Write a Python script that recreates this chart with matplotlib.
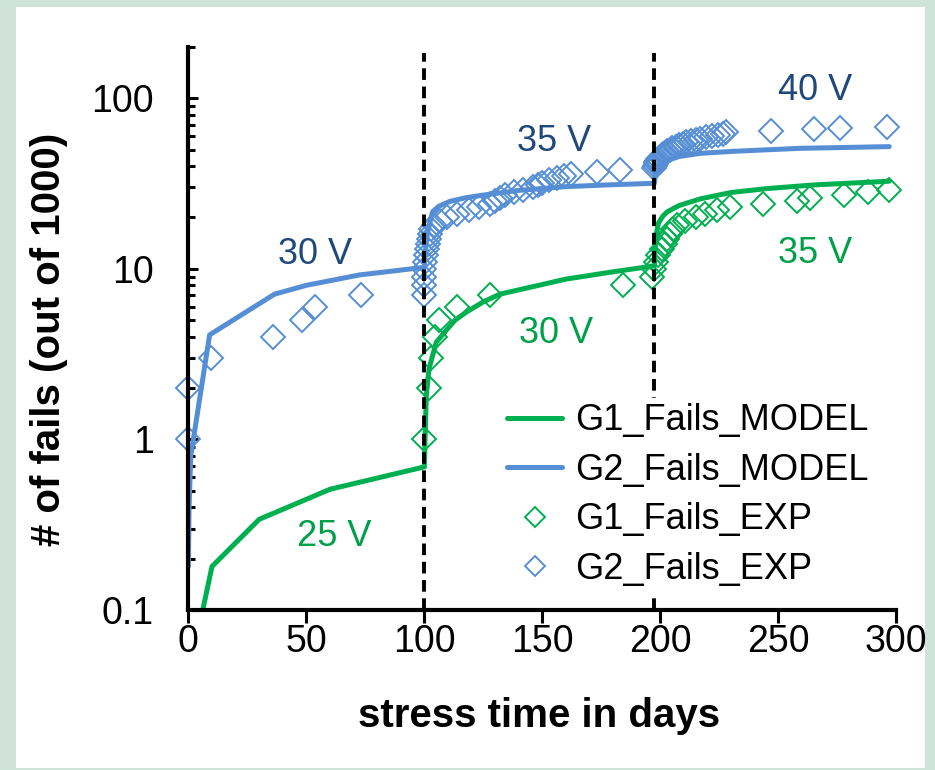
import matplotlib
matplotlib.use("Agg")
import matplotlib.pyplot as plt
from matplotlib.patches import Rectangle
from matplotlib.ticker import FixedLocator, LogLocator, NullFormatter, FuncFormatter

plt.rcParams["font.family"] = ["Liberation Sans", "DejaVu Sans"]

GREEN = "#00B050"
BLUE = "#558ED5"
GREEN_TXT = "#00A04A"
BLUE_TXT = "#1F497D"

# phase boundaries (stress voltage steps)
step_days = [100, 197.5]

# model curves
g1_model_days = [0, 10, 30, 60, 100, 100.3, 100.8, 102, 103.5, 105, 109.5, 113, 118, 125, 132,
                 145, 160, 180, 197.5, 197.8, 198.2, 199.2, 201, 203, 208, 217, 230, 245, 265, 297]
g1_model_fails = [0.04, 0.18, 0.34, 0.51, 0.69, 1.0, 1.8, 2.6, 3.1, 3.7, 4.4, 5.0, 5.6, 6.4, 7.1,
                  7.8, 8.7, 9.6, 10.4, 13.0, 15.7, 18.5, 20.3, 21.6, 23.5, 25.7, 28.0, 29.5, 31.0, 32.6]

g2_model_days = [0, 0.3, 1, 9, 36.5, 50, 72.5, 100, 100.5, 101.3, 102.3, 103.5, 106, 110.7, 117,
                 124.7, 140, 160, 180, 197.5, 197.8, 199, 202.5, 208, 217, 231, 259, 297]
g2_model_fails = [0.18, 0.4, 0.8, 4.1, 7.1, 8.0, 9.2, 10.2, 13.0, 16.0, 18.5, 21.6, 23.2, 24.8, 26.0,
                  27.0, 28.8, 30.3, 31.1, 31.7, 35.0, 40.0, 43.0, 45.5, 47.5, 48.8, 50.8, 52.0]

# experimental cumulative fails
g1_exp_days = [100, 101.8, 102.8, 104.5, 106, 114, 128, 184,
               196.5, 197.2, 198, 199, 200.5, 202, 203, 204, 205.5, 207, 210.5, 215, 219, 224,
               229.5, 243.5, 258, 263.5, 278, 288, 297]
g1_exp_fails = [1, 2, 3, 4, 5, 6, 7, 8,
                9, 10, 11, 12, 13, 14, 15, 16, 17, 18, 19, 20, 21, 22,
                23, 24, 25, 26, 27, 28, 29]

g2_exp_days = [0, 0, 9.5, 36, 48, 53.5, 73,
               100, 100, 100, 100, 100.3, 100.6, 101, 101.4, 101.8, 102.3, 103, 104, 106.5,
               109.5, 113.7, 119, 123, 128, 130, 132, 134, 138, 142, 146, 148, 150, 153, 156,
               159, 162, 173, 183,
               197.5, 197.7, 198, 198.3, 198.7, 199.2, 199.8, 200.5, 201.3, 202, 203, 204, 205,
               206.5, 208, 209.5, 211, 213, 215, 217, 219.5, 222, 224.5, 226.5, 228,
               247, 265, 276, 296]
g2_exp_fails = [1, 2, 3, 4, 5, 6, 7,
                7, 8, 9, 10, 11, 12, 13, 14, 15, 16, 17, 18, 19,
                20, 21, 22, 23, 24, 25, 26, 27, 28, 29, 30, 31, 32, 33, 34,
                35, 36, 37, 38,
                39, 40, 41, 42, 43, 44, 45, 46, 47, 48, 49, 50, 51,
                52, 53, 54, 55, 56, 57, 58, 59, 60, 61, 62, 63,
                64, 66, 67, 68]

y_major = [0.1, 1, 10, 100]
x_major = [0, 50, 100, 150, 200, 250, 300]

# voltage labels: (text, day, fails, colour)
labels = [
    ("30 V", 53.5, 12.1, BLUE_TXT),
    ("35 V", 155, 55.8, BLUE_TXT),
    ("40 V", 265.5, 111, BLUE_TXT),
    ("25 V", 62, 0.269, GREEN_TXT),
    ("30 V", 156, 4.15, GREEN_TXT),
    ("35 V", 265.5, 12.3, GREEN_TXT),
]

W, H = 935, 770
fig = plt.figure(figsize=(W / 100, H / 100), dpi=100, facecolor="#CFE3DB")
fig.patches.append(Rectangle((16 / W, 2.3 / H), (925 - 16) / W, (763 - 2.3) / H,
                             transform=fig.transFigure, facecolor="white",
                             edgecolor="none", zorder=-10))

ax = fig.add_axes([188.4 / W, 1 - 610 / H, (896.3 - 188.4) / W, (610 - 46.8) / H])
ax.set_facecolor("none")

ax.plot(g1_model_days, g1_model_fails, color=GREEN, lw=3.6, solid_capstyle="round",
        label="G1_Fails_MODEL", zorder=2)
ax.plot(g2_model_days, g2_model_fails, color=BLUE, lw=3.6, solid_capstyle="round",
        label="G2_Fails_MODEL", zorder=2)
ax.plot(g1_exp_days, g1_exp_fails, ls="none", marker="D", ms=12.5, mew=1.4,
        mfc="none", mec=GREEN, label="G1_Fails_EXP", clip_on=False, zorder=3)
ax.plot(g2_exp_days, g2_exp_fails, ls="none", marker="D", ms=12.5, mew=1.4,
        mfc="none", mec=BLUE, label="G2_Fails_EXP", clip_on=False, zorder=3)

for d in step_days:
    ax.axvline(d, ymin=0, ymax=0.989, color="black", lw=2.8,
               ls=(0, (3.0, 1.7)), dash_capstyle="butt", zorder=4)

for txt, d, v, c in labels:
    ax.text(d, v, txt, color=c, fontsize=26, ha="center", va="center")

ax.set_yscale("log")
ax.set_xlim(0, 300)
ax.set_ylim(0.1, 200)

ax.yaxis.set_major_locator(FixedLocator(y_major))
ax.yaxis.set_major_formatter(FuncFormatter(lambda v, _: f"{v:g}"))
ax.yaxis.set_minor_locator(LogLocator(base=10, subs=range(2, 10)))
ax.yaxis.set_minor_formatter(NullFormatter())
ax.xaxis.set_major_locator(FixedLocator(x_major))

for s in ["top", "right"]:
    ax.spines[s].set_visible(False)
for s in ["left", "bottom"]:
    ax.spines[s].set_linewidth(3)
    ax.spines[s].set_zorder(5)

ax.tick_params(axis="y", which="major", direction="in", length=7, width=2.2,
               pad=25, labelsize=27)
ax.tick_params(axis="y", which="minor", direction="in", length=5, width=2.2)
ax.tick_params(axis="x", which="major", direction="out", length=9, width=2.2,
               pad=1, labelsize=27)

ax.set_xlabel("stress time in days", fontsize=29, fontweight="bold", va="center")
ax.xaxis.set_label_coords(0.496, -0.188)
ax.set_ylabel("# of fails (out of 1000)", fontsize=29, fontweight="bold", va="center")
ax.yaxis.set_label_coords(-0.197, 0.48)

leg = ax.legend(loc="upper left", bbox_to_anchor=(0.4424, 0.3766), frameon=True,
                facecolor="white", edgecolor="none", framealpha=1, fancybox=False,
                fontsize=26, handlelength=1.53, handletextpad=0.36, labelspacing=0.4,
                borderpad=0.15, borderaxespad=0, numpoints=1, markerscale=0.82)
leg.set_zorder(6)

fig.savefig("out.png", dpi=100, facecolor=fig.get_facecolor())
